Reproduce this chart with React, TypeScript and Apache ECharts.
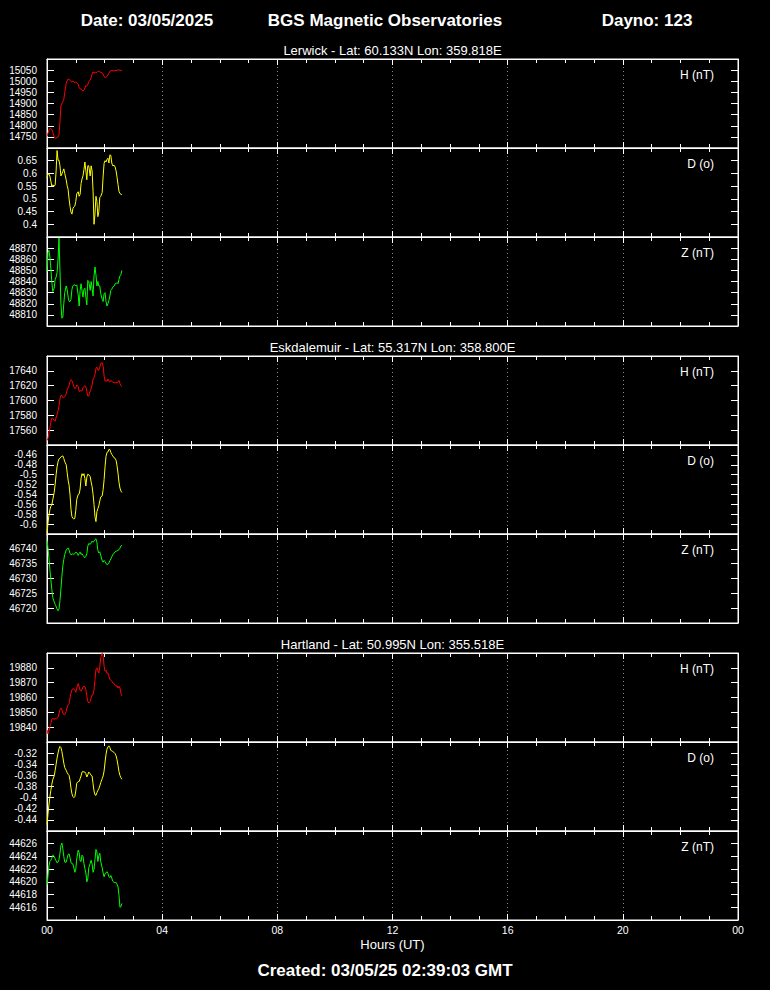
import React, { useEffect, useRef } from 'react';
import * as echarts from 'echarts';

// Sample times (minutes after 00:00 UT)
const minutesUT = [0, 2, 4, 6, 8, 10, 12, 15, 17, 19, 21, 23, 25, 27, 29, 31, 33, 35, 37, 40, 42, 44, 46, 48, 50, 52, 54, 56, 58, 60, 62, 65, 67, 69, 71, 73, 75, 77, 79, 81, 83, 85, 87, 90, 92, 94, 96, 98, 100, 102, 104, 106, 108, 110, 112, 115, 117, 119, 121, 123, 125, 127, 129, 131, 133, 135, 137, 140, 142, 144, 146, 148, 150, 152, 154, 156];

const lerwickH = [14752, 14766, 14780, 14788, 14787, 14784, 14772, 14750, 14744, 14745, 14747, 14749, 14760, 14820, 14890, 14900, 14908, 14918, 14950, 14990, 15002, 15010, 15008, 15005, 14999, 14997, 15000, 14998, 14994, 14996, 14994, 14988, 14970, 14966, 14966, 14962, 14956, 14960, 14970, 14980, 14978, 14985, 14999, 15005, 15016, 15032, 15042, 15036, 15040, 15041, 15039, 15044, 15044, 15042, 15040, 15038, 15032, 15022, 15016, 15017, 15022, 15028, 15036, 15045, 15047, 15048, 15047, 15047, 15048, 15048, 15049, 15052, 15051, 15048, 15049, 15047];
const lerwickD = [0.583, 0.598, 0.598, 0.589, 0.57, 0.55, 0.555, 0.55, 0.555, 0.61, 0.69, 0.652, 0.652, 0.63, 0.59, 0.598, 0.608, 0.618, 0.6, 0.575, 0.552, 0.537, 0.5, 0.47, 0.448, 0.44, 0.462, 0.469, 0.472, 0.49, 0.52, 0.528, 0.51, 0.518, 0.56, 0.578, 0.59, 0.615, 0.645, 0.61, 0.575, 0.63, 0.63, 0.59, 0.63, 0.61, 0.53, 0.40, 0.44, 0.51, 0.49, 0.43, 0.45, 0.505, 0.51, 0.525, 0.59, 0.64, 0.65, 0.645, 0.655, 0.66, 0.641, 0.673, 0.671, 0.641, 0.63, 0.632, 0.625, 0.61, 0.585, 0.557, 0.53, 0.521, 0.519, 0.515];
const lerwickZ = [48849, 48866, 48868, 48862, 48852, 48840, 48831, 48834, 48842, 48844, 48848, 48860, 48879, 48850, 48820, 48807, 48808, 48820, 48830, 48836, 48833, 48826, 48822, 48822, 48824, 48833, 48836, 48837, 48837, 48836, 48837, 48828, 48818, 48832, 48838, 48832, 48826, 48833, 48834, 48826, 48819, 48841, 48840, 48832, 48840, 48834, 48827, 48845, 48853, 48846, 48836, 48840, 48836, 48836, 48829, 48824, 48822, 48829, 48830, 48822, 48818, 48820, 48823, 48827, 48832, 48833, 48835, 48836, 48838, 48838, 48839, 48838, 48842, 48845, 48846, 48850];

const eskdalemuirH = [17546, 17549, 17556, 17563, 17571, 17576, 17576, 17573, 17572, 17577, 17581, 17586, 17593, 17602, 17607, 17607, 17604, 17604, 17605, 17609, 17614, 17617, 17620, 17626, 17628, 17627, 17623, 17619, 17616, 17617, 17621, 17619, 17612, 17613, 17613, 17613, 17617, 17619, 17620, 17619, 17612, 17606, 17606, 17613, 17616, 17621, 17629, 17631, 17635, 17643, 17645, 17641, 17641, 17645, 17650, 17651, 17646, 17633, 17626, 17627, 17626, 17629, 17626, 17625, 17627, 17626, 17625, 17624, 17624, 17624, 17624, 17625, 17627, 17623, 17620, 17619];
const eskdalemuirD = [-0.619, -0.598, -0.582, -0.571, -0.564, -0.561, -0.551, -0.536, -0.519, -0.5, -0.484, -0.474, -0.468, -0.467, -0.464, -0.463, -0.462, -0.467, -0.474, -0.48, -0.495, -0.511, -0.521, -0.541, -0.57, -0.585, -0.588, -0.59, -0.588, -0.572, -0.55, -0.54, -0.539, -0.529, -0.507, -0.498, -0.502, -0.498, -0.508, -0.523, -0.505, -0.499, -0.5, -0.504, -0.515, -0.524, -0.54, -0.56, -0.585, -0.595, -0.575, -0.569, -0.563, -0.553, -0.545, -0.543, -0.53, -0.51, -0.483, -0.463, -0.455, -0.454, -0.449, -0.449, -0.455, -0.459, -0.462, -0.466, -0.467, -0.471, -0.482, -0.497, -0.515, -0.527, -0.533, -0.536];
const eskdalemuirZ = [46742.9, 46740.3, 46737, 46733, 46729.7, 46726.4, 46723.6, 46722.1, 46721.3, 46720.6, 46719.7, 46719.1, 46719.7, 46722.5, 46726.4, 46730.8, 46734.2, 46736.4, 46738.1, 46739.6, 46740, 46740.3, 46739.6, 46738.4, 46738.1, 46738.1, 46738.4, 46738.1, 46738.4, 46738.9, 46738.7, 46737.8, 46738.4, 46738.9, 46738.1, 46738.4, 46737.8, 46737.3, 46737, 46737.5, 46738.4, 46740.9, 46741.8, 46741.5, 46742, 46742.6, 46742.2, 46742.6, 46743.1, 46743.4, 46742.2, 46739.5, 46738.6, 46739, 46737.8, 46736, 46735.5, 46736.1, 46735.7, 46735, 46734.8, 46734.8, 46735.2, 46736, 46736.6, 46737.3, 46738, 46738.6, 46739, 46739.2, 46739.3, 46739.5, 46739.7, 46740.2, 46741, 46741.2];

const hartlandH = [19838.2, 19835.5, 19837, 19840.5, 19842.3, 19845.4, 19846.1, 19845, 19846.1, 19845.4, 19846.1, 19846.8, 19849, 19851.8, 19852.9, 19851.8, 19849.5, 19848.4, 19848.4, 19850.6, 19853.6, 19855.1, 19855.8, 19859.7, 19863, 19865.3, 19865.8, 19865.8, 19865.3, 19863.5, 19866.4, 19869.4, 19867.1, 19864.9, 19864.2, 19865.3, 19867.1, 19867.6, 19867.1, 19865.3, 19860.8, 19857.4, 19856.3, 19857.4, 19859.7, 19861.9, 19861.9, 19865.3, 19872.1, 19878.9, 19880, 19877.7, 19876.6, 19881.1, 19886.8, 19889.8, 19887.9, 19881.1, 19877.7, 19878.4, 19876.2, 19876.6, 19874.3, 19872.1, 19871.6, 19871, 19869.8, 19869.4, 19868, 19867.6, 19868, 19866.4, 19867.6, 19866.4, 19863, 19861.2];
const hartlandD = [-0.448, -0.43, -0.413, -0.399, -0.387, -0.376, -0.368, -0.361, -0.351, -0.34, -0.329, -0.32, -0.312, -0.308, -0.31, -0.317, -0.327, -0.338, -0.346, -0.351, -0.355, -0.358, -0.36, -0.369, -0.383, -0.393, -0.398, -0.4, -0.398, -0.388, -0.374, -0.371, -0.371, -0.366, -0.361, -0.354, -0.353, -0.354, -0.354, -0.357, -0.363, -0.359, -0.354, -0.357, -0.36, -0.361, -0.375, -0.388, -0.395, -0.396, -0.391, -0.387, -0.384, -0.379, -0.373, -0.366, -0.361, -0.352, -0.336, -0.322, -0.313, -0.309, -0.307, -0.31, -0.315, -0.316, -0.317, -0.319, -0.321, -0.325, -0.332, -0.342, -0.353, -0.36, -0.364, -0.367];
const hartlandZ = [44619.5, 44620.9, 44622.5, 44623.2, 44623.4, 44623.7, 44624.2, 44624, 44623.6, 44623.3, 44623, 44623.1, 44623.5, 44624.5, 44625.7, 44626.1, 44625.2, 44624, 44623.1, 44623.1, 44623.7, 44624.3, 44624.4, 44623.8, 44623, 44622.9, 44622.8, 44622.2, 44621.5, 44622, 44623.6, 44625, 44624.6, 44623.3, 44623.2, 44624.2, 44624, 44622.9, 44622.1, 44621.4, 44620, 44620.5, 44622.2, 44622.9, 44623.4, 44622.8, 44621.5, 44622, 44623.5, 44625.1, 44624.7, 44623.2, 44624.1, 44624.5, 44623.2, 44622.2, 44621.4, 44620.8, 44621.3, 44621.4, 44621.6, 44621.3, 44620.8, 44620.7, 44621, 44620.6, 44620.1, 44619.9, 44619.9, 44619.9, 44619.6, 44619.2, 44617.9, 44616, 44616.1, 44616.6];

const stationNames = ['Lerwick', 'Eskdalemuir', 'Hartland'];
const stationLat = ['60.133N', '55.317N', '50.995N'];
const stationLon = ['359.818E', '358.800E', '355.518E'];
const componentLabels = ['H (nT)', 'D (o)', 'Z (nT)'];
const componentColors = ['#ff0000', '#ffff00', '#00ff00'];

const panelValues = [lerwickH, lerwickD, lerwickZ, eskdalemuirH, eskdalemuirD, eskdalemuirZ, hartlandH, hartlandD, hartlandZ];
const yMin = [14700, 0.35, 48800, 17540, -0.62, 46715, 19830, -0.46, 44614];
const yMax = [15100, 0.7, 48880, 17660, -0.44, 46745, 19890, -0.3, 44628];
const yStep = [50, 0.05, 10, 20, 0.02, 5, 10, 0.02, 2];

const hourTickLabels = ['00', '04', '08', '12', '16', '20', '00'];
const headerDate = 'Date: 03/05/2025';
const headerTitle = 'BGS Magnetic Observatories';
const headerDayno = 'Dayno: 123';
const createdText = 'Created: 03/05/25 02:39:03 GMT';
const xAxisTitle = 'Hours (UT)';

export default function App() {
  const ref = useRef<HTMLDivElement>(null);

  useEffect(() => {
    document.body.style.margin = '0';
    document.body.style.background = '#000';
    const chart = echarts.init(ref.current as HTMLDivElement, null, { renderer: 'svg' });
    const FAM = '"Liberation Sans", Arial, Helvetica, sans-serif';
    const left = 47;
    const width = 691;
    const panelH = 89;
    const groupTops = [59, 356, 653];

    const grids: any[] = [];
    const xAxes: any[] = [];
    const yAxes: any[] = [];
    const series: any[] = [];
    const graphics: any[] = [];

    const fmtY = (v: number) => String(Number(v.toFixed(4)));
    const fmtX = (v: number) => hourTickLabels[Math.round(v / 240)] ?? '';

    const textEl = (text: string, x: number, y: number, font: string, align: string) => ({
      type: 'text',
      x,
      y,
      silent: true,
      style: { text, fill: '#ffffff', font, textAlign: align, textVerticalAlign: 'middle' },
    });

    graphics.push(textEl(headerDate, 147, 20, `bold 17px ${FAM}`, 'center'));
    graphics.push(textEl(headerTitle, 385, 20, `bold 17px ${FAM}`, 'center'));
    graphics.push(textEl(headerDayno, 647, 20, `bold 17px ${FAM}`, 'center'));
    graphics.push(textEl(createdText, 385, 970, `bold 17px ${FAM}`, 'center'));

    for (let s = 0; s < 3; s++) {
      graphics.push(
        textEl(
          `${stationNames[s]} - Lat: ${stationLat[s]} Lon: ${stationLon[s]}`,
          left + width / 2,
          groupTops[s] - 8.5,
          `13px ${FAM}`,
          'center'
        )
      );
      for (let c = 0; c < 3; c++) {
        const g = s * 3 + c;
        const top = groupTops[s] + c * panelH;
        const isLast = g === 8;
        grids.push({ left, top, width, height: panelH, show: true, borderColor: '#ffffff', borderWidth: 1, backgroundColor: 'transparent' });
        graphics.push(textEl(componentLabels[c], 714, top + 15.5, `12px ${FAM}`, 'right'));

        const xCommon = {
          type: 'value',
          gridIndex: g,
          min: 0,
          max: 1440,
          interval: 240,
          axisLine: { show: true, onZero: false, lineStyle: { color: '#ffffff', width: 1 } },
          axisTick: { show: true, inside: true, length: 6, lineStyle: { color: '#ffffff', width: 1 } },
          minorTick: { show: true, splitNumber: 4, length: 4, lineStyle: { color: '#ffffff', width: 1 } },
          minorSplitLine: { show: false },
        };
        xAxes.push({
          ...xCommon,
          position: 'bottom',
          splitLine: { show: true, lineStyle: { color: '#8a8a8a', width: 1, type: [1, 3] } },
          axisLabel: {
            show: isLast,
            color: '#ffffff',
            fontSize: 10.5,
            fontFamily: FAM,
            margin: 4,
            showMinLabel: true,
            showMaxLabel: true,
            formatter: fmtX,
          },
          name: isLast ? xAxisTitle : '',
          nameLocation: 'middle',
          nameGap: 18,
          nameTextStyle: { color: '#ffffff', fontSize: 13, fontFamily: FAM },
        });
        xAxes.push({
          ...xCommon,
          position: 'top',
          splitLine: { show: false },
          axisLabel: { show: false },
        });

        const yCommon = {
          type: 'value',
          gridIndex: g,
          min: yMin[g],
          max: yMax[g],
          interval: yStep[g],
          scale: false,
          axisLine: { show: true, onZero: false, lineStyle: { color: '#ffffff', width: 1 } },
          axisTick: { show: true, inside: true, length: 7, lineStyle: { color: '#ffffff', width: 1 } },
          splitLine: { show: false },
        };
        yAxes.push({
          ...yCommon,
          position: 'left',
          axisLabel: {
            show: true,
            color: '#ffffff',
            fontSize: 10,
            lineHeight: 9,
            fontFamily: FAM,
            margin: 10,
            showMinLabel: false,
            showMaxLabel: false,
            formatter: fmtY,
          },
        });
        yAxes.push({
          ...yCommon,
          position: 'right',
          axisLabel: { show: false },
        });

        series.push({
          type: 'line',
          name: `${stationNames[s]} ${componentLabels[c]}`,
          xAxisIndex: 2 * g,
          yAxisIndex: 2 * g,
          data: minutesUT.map((t, i) => [t, panelValues[g][i]]),
          showSymbol: false,
          symbol: 'none',
          clip: true,
          lineStyle: { color: componentColors[c], width: 1 },
          itemStyle: { color: componentColors[c] },
        });
      }
    }

    chart.setOption({
      animation: false,
      backgroundColor: '#000000',
      textStyle: { fontFamily: FAM },
      grid: grids,
      xAxis: xAxes,
      yAxis: yAxes,
      series,
      graphic: graphics,
    });

    return () => {
      chart.dispose();
    };
  }, []);

  return (
    <div
      ref={ref}
      style={{ position: 'absolute', left: 0, top: 0, width: 770, height: 990, background: '#000' }}
    />
  );
}
